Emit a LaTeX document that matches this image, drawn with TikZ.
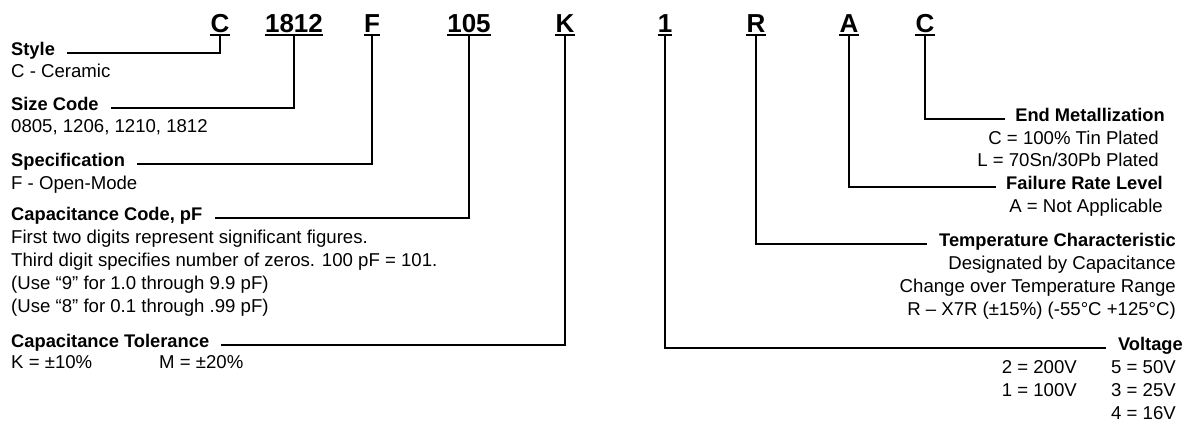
\documentclass[tikz,border=0pt]{standalone}
\usepackage{fontspec}
\setmainfont{Liberation Sans}
\begin{document}
\begin{tikzpicture}[x=1pt,y=-1pt,
  code/.style={font=\fontsize{26}{26}\selectfont\bfseries, inner sep=0pt, anchor=base},
  head/.style={font=\fontsize{18.3}{18.3}\selectfont\bfseries, inner sep=0pt},
  txt/.style={font=\fontsize{18.6}{18.6}\selectfont, inner sep=0pt},
  lft/.style={anchor=base west},
  rgt/.style={anchor=base east},
  conn/.style={line width=2.3pt, line join=miter},
  uline/.style={line width=2pt}]
\useasboundingbox (0,0) rectangle (1188,423);
% code row
\node[code] (c1) at (220,32.5) {C};
\node[code] (c2) at (294,32.5) {1812};
\node[code] (c3) at (372,32.5) {F};
\node[code] (c4) at (469,32.5) {105};
\node[code] (c5) at (565,32.5) {K};
\node[code] (c6) at (665,32.5) {1};
\node[code] (c7) at (756,32.5) {R};
\node[code] (c8) at (849,32.5) {A};
\node[code] (c9) at (925,32.5) {C};
\foreach \n in {c1,c2,c3,c4,c5,c6,c7,c8,c9}
  \draw[uline] ([yshift=-2.5pt]\n.base west) -- ([yshift=-2.5pt]\n.base east);
% left labels
\node[head,lft] (style) at (11,55) {Style};
\node[txt,lft] (stylev) at (11,77) {C - Ceramic};
\node[head,lft] (size) at (11,110) {Size Code};
\node[txt,lft] (sizev) at (11,132) {0805, 1206, 1210, 1812};
\node[head,lft] (spec) at (11,166) {Specification};
\node[txt,lft] (specv) at (11,189) {F - Open-Mode};
\node[head,lft] (cap) at (11,220) {Capacitance Code, pF};
\node[txt,lft] (capa) at (11,243) {First two digits represent significant figures.};
\node[txt,lft] (capb) at (11,266) {Third digit specifies number of zeros. 100 pF = 101.};
\node[txt,lft] (capc) at (11,289) {(Use “9” for 1.0 through 9.9 pF)};
\node[txt,lft] (capd) at (11,312) {(Use “8” for 0.1 through .99 pF)};
\node[head,lft] (tol) at (11,347) {Capacitance Tolerance};
\node[txt,lft] (tolk) at (11,368) {K = ±10\%};
\node[txt,lft] (tolm) at (159,368) {M = ±20\%};
% right labels
\node[head,rgt] (endm) at (1165,121) {End Metallization};
\node[txt,rgt] (endc) at (1159,144) {C = 100\% Tin Plated};
\node[txt,rgt] (endl) at (1159,166) {L = 70Sn/30Pb Plated};
\node[head,rgt] (fail) at (1163,189) {Failure Rate Level};
\node[txt,rgt] (faila) at (1163,212) {A = Not Applicable};
\node[head,rgt] (temp) at (1176,246) {Temperature Characteristic};
\node[txt,rgt] (tempa) at (1176,269) {Designated by Capacitance};
\node[txt,rgt] (tempb) at (1176,292) {Change over Temperature Range};
\node[txt,rgt] (tempc) at (1176,315) {R – X7R (±15\%) (-55°C +125°C)};
\node[head,rgt] (volt) at (1183,350) {Voltage};
\node[txt,rgt] (v2) at (1077,373) {2 = 200V};
\node[txt,rgt] (v1) at (1077,396) {1 = 100V};
\node[txt,rgt] (v5) at (1176,373) {5 = 50V};
\node[txt,rgt] (v3) at (1176,396) {3 = 25V};
\node[txt,rgt] (v4) at (1176,419) {4 = 16V};
% connectors
\draw[conn] ([yshift=-2.5pt]c1.base) |- ([xshift=12pt,yshift=2pt]style.base east);
\draw[conn] ([yshift=-2.5pt]c2.base) |- ([xshift=12pt,yshift=2pt]size.base east);
\draw[conn] ([yshift=-2.5pt]c3.base) |- ([xshift=12pt,yshift=2pt]spec.base east);
\draw[conn] ([yshift=-2.5pt]c4.base) |- ([xshift=12pt,yshift=2pt]cap.base east);
\draw[conn] ([yshift=-2.5pt]c5.base) |- ([xshift=12pt,yshift=2pt]tol.base east);
\draw[conn] ([yshift=-2.5pt]c6.base) |- ([xshift=-12pt,yshift=2pt]volt.base west);
\draw[conn] ([yshift=-2.5pt]c7.base) |- ([xshift=-12pt,yshift=2pt]temp.base west);
\draw[conn] ([yshift=-2.5pt]c8.base) |- ([xshift=-10pt,yshift=2pt]fail.base west);
\draw[conn] ([yshift=-2.5pt]c9.base) |- ([xshift=-10pt,yshift=2pt]endm.base west);
\end{tikzpicture}
\end{document}
